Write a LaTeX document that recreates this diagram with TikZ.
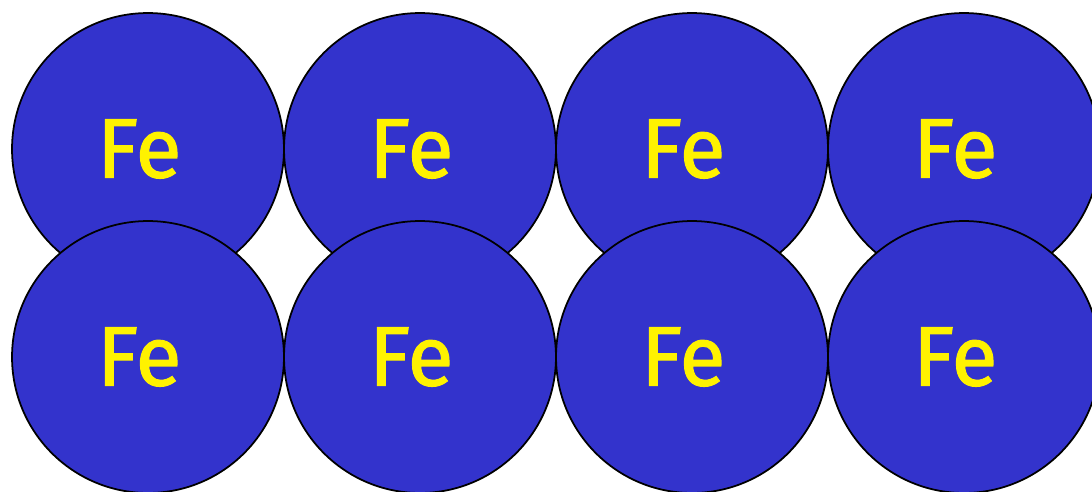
\documentclass[tikz,border=0pt]{standalone}
\usepackage{fontspec}
\setmainfont{Fira Sans}
\usepackage{xcolor}
\usepackage{tikz}
\definecolor{ironblue}{RGB}{51,51,204}

\begin{document}
\begin{tikzpicture}[x=0.02cm, y=-0.02cm,
    atom/.style={draw, circle, fill=ironblue, line width=1pt, minimum size=5.44cm, inner sep=0pt,
                 text=yellow, font=\fontsize{48}{48}\selectfont\addfontfeature{FakeBold=1.2}}]
    \useasboundingbox (0,0) rectangle (1092,491);
    \begin{scope}
    \clip (0,0) rectangle (1092,491);
    % top row of iron atoms
    \foreach \x in {0,1,2,3} {
        \node[atom] (top\x) at (148+\x*272, 149) {\makebox[0pt]{\hspace{-10pt}Fe}};
    }
    % bottom row, drawn over the top row
    \foreach \x in {0,1,2,3} {
        \node[atom] (bot\x) at (148+\x*272, 357) {\makebox[0pt]{\hspace{-10pt}Fe}};
    }
    \end{scope}
\end{tikzpicture}
\end{document}
